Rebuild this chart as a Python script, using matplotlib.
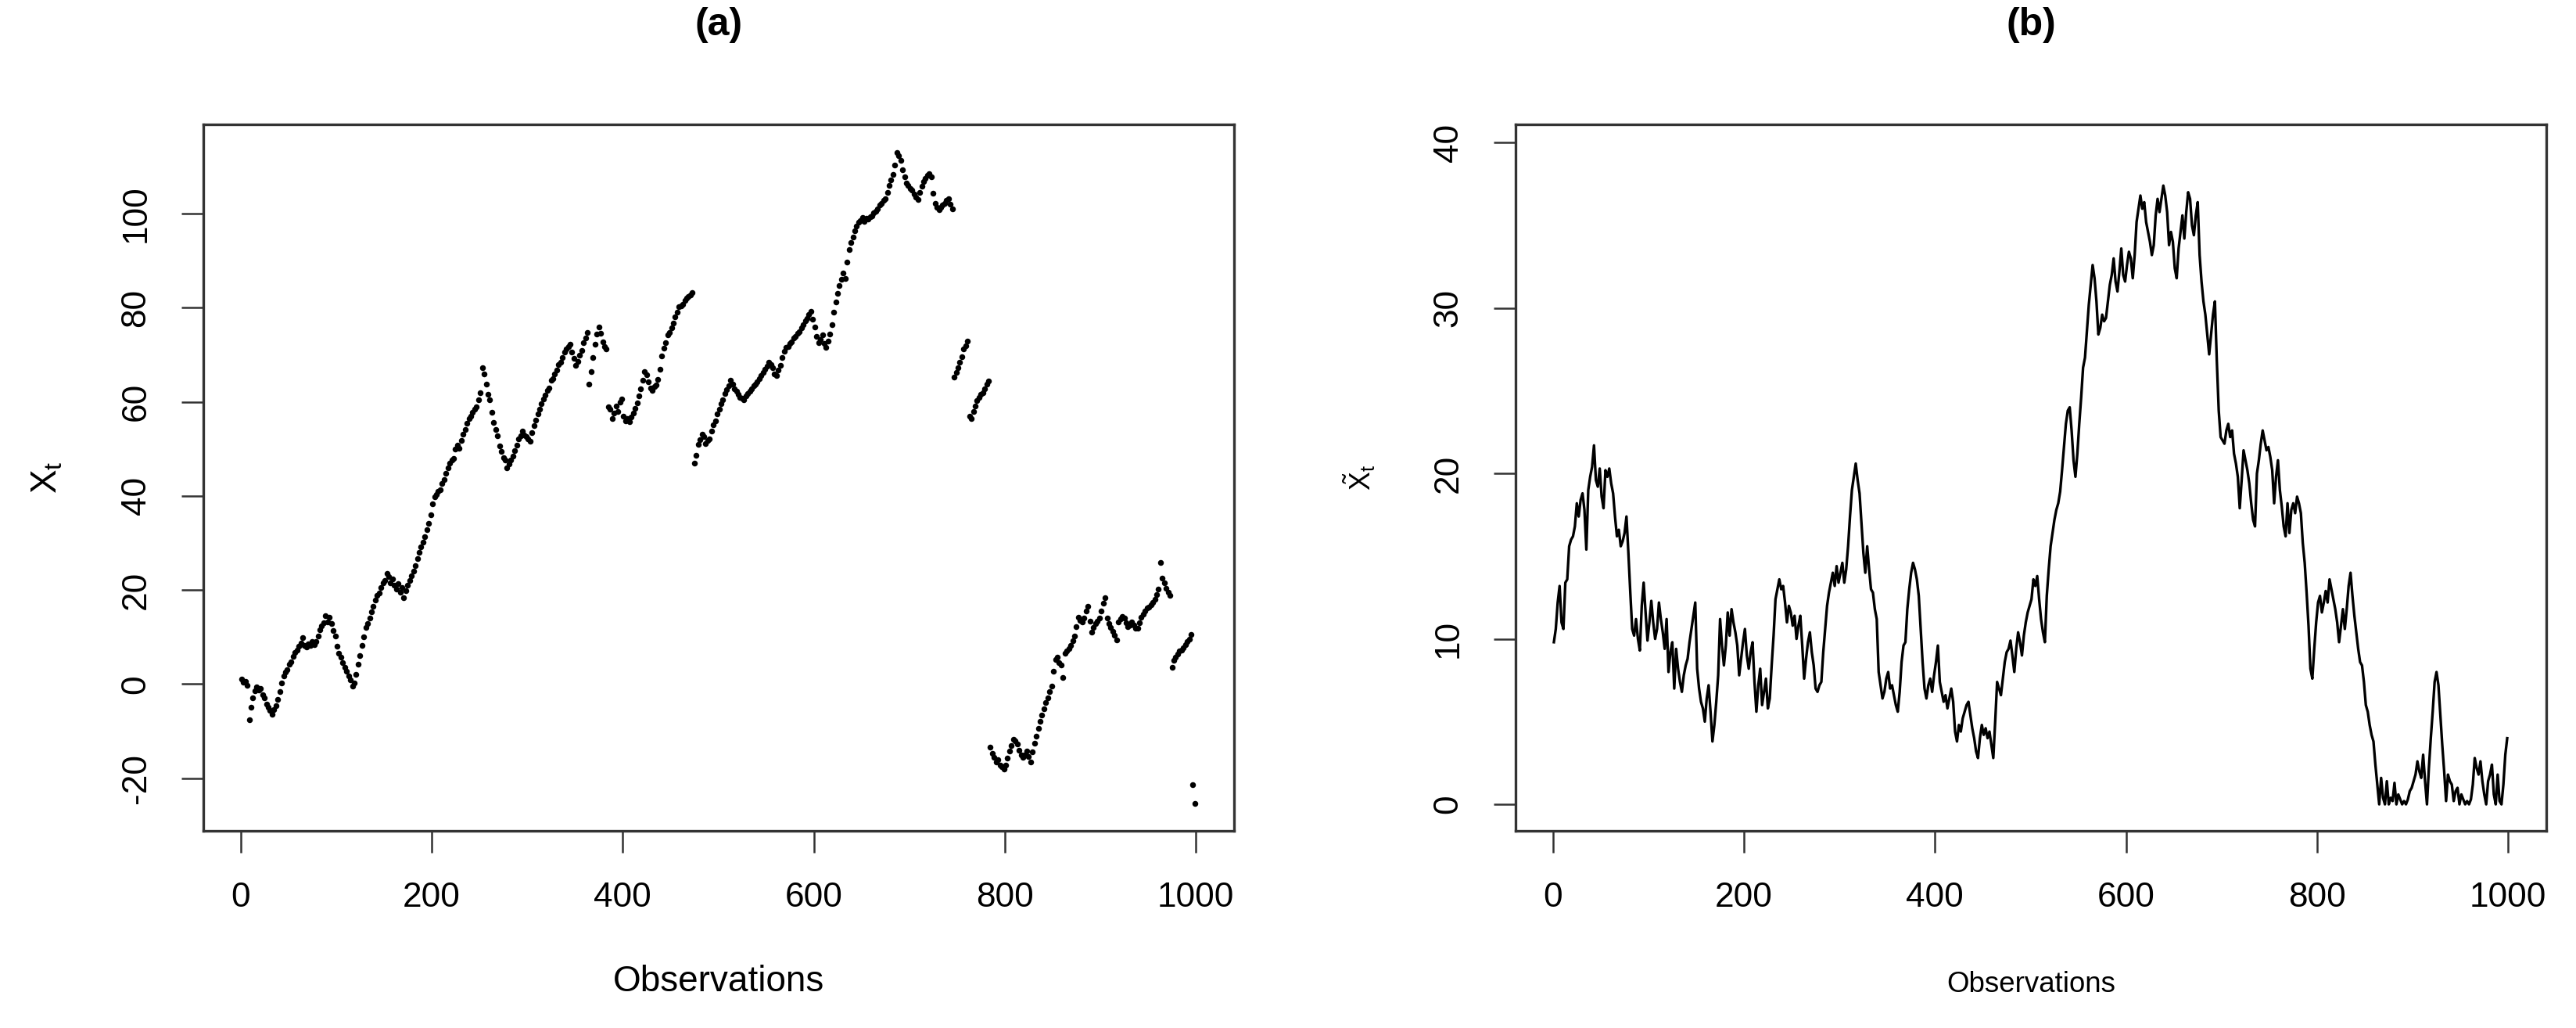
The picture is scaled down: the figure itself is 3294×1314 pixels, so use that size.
import numpy as np
import matplotlib
matplotlib.use("Agg")
import matplotlib.pyplot as plt

plt.rcParams['font.family'] = ['Liberation Sans', 'DejaVu Sans']
plt.rcParams['mathtext.fontset'] = 'custom'
plt.rcParams['mathtext.rm'] = 'Liberation Sans'
plt.rcParams['mathtext.it'] = 'Liberation Sans'
plt.rcParams['mathtext.bf'] = 'Liberation Sans:bold'
plt.rcParams['axes.unicode_minus'] = False

# observations (every second one)
obs = np.arange(1, 1000, 2)

# panel (a): X_t, scatter
x_t = [
    1.0, 0.4, 0.6, -0.2, -7.6, -5.0, -3.0, -1.5, -0.6, -1.2,
    -0.9, -2.2, -3.0, -4.2, -5.0, -5.6, -6.5, -5.5, -4.6, -3.2,
    -1.6, 0.2, 1.8, 2.6, 3.0, 4.2, 4.8, 5.9, 6.8, 7.3,
    8.0, 8.8, 9.9, 8.3, 7.9, 8.6, 8.2, 9.1, 8.4, 9.0,
    10.2, 11.6, 12.4, 13.1, 14.6, 13.2, 14.2, 12.8, 11.4, 10.2,
    8.0, 6.6, 5.8, 4.6, 3.6, 2.8, 1.7, 0.9, -0.5, 0.3,
    2.0, 4.2, 6.0, 8.3, 10.1, 12.0, 12.8, 14.0, 15.3, 16.6,
    17.8, 18.9, 19.4, 20.6, 21.5, 22.0, 23.5, 22.8, 21.6, 22.4,
    21.0, 20.2, 21.3, 19.6, 20.5, 18.4, 19.8, 21.0, 22.0, 23.0,
    24.0, 25.2, 26.6, 28.0, 29.1, 30.2, 31.4, 32.8, 34.2, 36.0,
    38.4, 39.8, 40.4, 41.0, 41.4, 42.6, 43.4, 44.8, 45.9, 47.0,
    47.6, 48.0, 50.0, 50.8, 50.2, 51.8, 53.2, 54.2, 55.4, 56.4,
    57.0, 57.8, 58.4, 59.0, 60.4, 62.0, 67.2, 66.0, 63.8, 61.6,
    60.4, 57.8, 55.6, 54.2, 52.8, 50.6, 49.4, 48.2, 47.6, 46.0,
    46.8, 47.6, 48.4, 49.6, 50.8, 52.2, 52.8, 53.8, 53.0, 52.6,
    52.2, 51.6, 53.4, 55.0, 56.2, 57.4, 58.4, 59.6, 60.6, 61.4,
    62.4, 63.0, 64.6, 65.0, 66.0, 66.8, 67.9, 68.4, 69.4, 70.6,
    71.2, 71.8, 72.3, 70.6, 69.2, 67.8, 68.6, 70.0, 71.0, 72.6,
    73.6, 74.8, 63.8, 66.4, 69.4, 72.2, 74.4, 76.0, 74.6, 72.8,
    71.8, 71.2, 59.0, 58.4, 56.4, 57.6, 59.2, 58.0, 60.0, 60.6,
    57.0, 56.0, 56.4, 55.8, 56.8, 57.6, 58.6, 59.8, 61.2, 62.8,
    64.6, 66.4, 65.8, 64.2, 63.0, 62.4, 63.2, 63.6, 64.8, 67.0,
    69.8, 71.4, 72.6, 74.2, 74.8, 75.8, 76.8, 78.0, 79.0, 80.2,
    80.4, 80.8, 81.6, 82.0, 82.4, 82.8, 83.2, 47.0, 48.6, 51.0,
    52.0, 53.2, 52.6, 51.2, 51.8, 52.2, 53.8, 55.2, 56.0, 57.4,
    58.4, 59.6, 60.4, 61.8, 62.6, 63.4, 64.6, 63.8, 62.8, 62.2,
    61.6, 61.0, 60.8, 60.4, 61.2, 61.8, 62.2, 62.8, 63.4, 63.8,
    64.2, 65.0, 65.6, 66.2, 67.0, 67.6, 68.4, 68.0, 67.2, 66.0,
    65.6, 66.8, 67.8, 69.4, 70.8, 71.6, 71.8, 72.4, 72.8, 73.6,
    74.0, 74.6, 75.0, 75.8, 76.4, 77.2, 77.8, 78.6, 79.2, 77.6,
    76.0, 74.0, 72.6, 73.2, 74.2, 72.4, 71.6, 73.0, 74.4, 76.4,
    79.0, 81.2, 83.0, 84.8, 86.0, 87.4, 86.2, 89.8, 92.4, 93.8,
    95.0, 96.4, 97.4, 98.2, 98.6, 99.2, 98.4, 99.0, 98.8, 99.4,
    99.6, 100.2, 100.6, 101.0, 101.8, 102.2, 102.8, 103.2, 104.6, 106.0,
    107.2, 108.4, 110.4, 113.0, 112.4, 111.4, 109.4, 107.8, 106.6, 106.0,
    105.4, 105.0, 104.2, 103.6, 103.0, 104.6, 105.8, 106.8, 107.6, 108.2,
    108.6, 107.8, 104.4, 102.2, 101.4, 100.8, 101.4, 101.8, 102.2, 102.8,
    103.2, 102.0, 101.0, 65.2, 66.2, 67.2, 68.4, 69.6, 71.2, 72.0,
    73.0, 57.0, 56.4, 58.0, 59.2, 60.2, 61.0, 61.6, 62.0, 62.8,
    63.8, 64.4, -13.4, -14.8, -15.6, -16.6, -16.0, -17.2, -17.6, -18.0,
    -17.2, -15.8, -14.2, -13.0, -11.8, -12.0, -12.8, -14.0, -15.0, -15.6,
    -15.0, -14.2, -15.4, -16.6, -14.4, -12.6, -11.0, -9.4, -8.0, -6.6,
    -5.2, -4.0, -3.0, -1.6, -0.4, 2.8, 5.2, 5.8, 4.6, 4.0,
    1.4, 6.6, 7.0, 7.6, 8.2, 9.2, 10.2, 12.2, 14.2, 13.6,
    13.2, 14.0, 15.6, 16.6, 13.4, 11.0, 12.0, 12.8, 13.4, 14.0,
    15.6, 17.2, 18.4, 14.0, 12.8, 12.0, 11.2, 10.4, 9.4, 13.2,
    13.8, 14.4, 14.0, 13.0, 12.2, 12.6, 13.2, 12.6, 11.8, 11.8,
    13.0, 14.2, 14.8, 15.6, 16.2, 16.4, 16.8, 17.4, 18.0, 19.0,
    20.2, 25.8, 22.6, 21.6, 20.4, 19.6, 18.8, 3.6, 5.0, 5.8,
    6.4, 7.0, 7.2, 7.8, 8.4, 9.0, 9.6, 10.6, -21.4, -25.4,
]

# panel (b): X~_t, line
x_tilde = [
    9.8, 10.6, 12.2, 13.2, 11.0, 10.6, 13.4, 13.6, 15.6, 16.0,
    16.2, 16.8, 18.2, 17.4, 18.4, 18.8, 17.8, 15.4, 19.0, 19.8,
    20.4, 21.7, 19.6, 19.2, 20.3, 18.6, 17.9, 20.2, 19.8, 20.3,
    19.4, 18.8, 17.4, 16.2, 16.6, 15.6, 15.9, 16.4, 17.4, 15.2,
    12.8, 10.6, 10.2, 11.2, 10.0, 9.3, 12.0, 13.4, 11.6, 9.9,
    11.0, 12.3, 11.0, 10.0, 10.6, 12.2, 11.2, 10.4, 9.4, 11.2,
    8.0, 9.2, 9.8, 7.0, 9.4, 8.2, 7.4, 6.8, 7.8, 8.4,
    8.8, 9.8, 10.6, 11.4, 12.2, 8.2, 7.0, 6.2, 5.8, 5.0,
    6.4, 7.2, 5.6, 3.8, 4.8, 6.2, 7.8, 11.2, 9.6, 8.4,
    9.6, 11.6, 10.2, 11.8, 11.0, 10.4, 9.6, 7.8, 8.8, 9.8,
    10.6, 9.0, 8.2, 9.2, 9.8, 7.4, 5.6, 7.2, 8.2, 6.0,
    6.8, 7.6, 5.8, 6.4, 8.4, 10.2, 12.4, 13.0, 13.6, 13.0,
    13.2, 12.2, 11.0, 12.0, 11.6, 10.8, 11.4, 10.0, 10.8, 11.4,
    9.6, 7.6, 8.8, 9.8, 10.4, 9.2, 8.4, 7.0, 6.8, 7.2,
    7.4, 9.2, 10.6, 12.0, 12.8, 13.4, 14.0, 13.2, 14.4, 13.4,
    14.0, 14.6, 13.4, 14.2, 15.6, 17.4, 19.0, 19.8, 20.6, 19.6,
    18.8, 17.0, 15.2, 14.0, 15.6, 14.2, 13.0, 12.8, 11.8, 11.2,
    8.0, 7.2, 6.4, 6.8, 7.6, 8.0, 7.0, 7.2, 6.6, 6.0,
    5.6, 6.8, 8.6, 9.6, 9.8, 11.8, 13.0, 14.0, 14.6, 14.2,
    13.6, 12.6, 10.6, 8.6, 7.0, 6.4, 7.2, 7.6, 6.8, 7.8,
    8.6, 9.6, 7.4, 6.8, 6.2, 6.6, 5.8, 6.4, 7.0, 6.2,
    4.4, 3.8, 4.8, 4.4, 5.2, 5.6, 6.0, 6.2, 5.4, 4.6,
    4.0, 3.2, 2.8, 4.0, 4.8, 4.2, 4.6, 4.0, 4.4, 3.6,
    2.8, 5.0, 7.4, 7.0, 6.6, 7.6, 8.6, 9.2, 9.4, 9.9,
    9.0, 8.0, 9.4, 10.4, 9.8, 9.0, 10.2, 11.0, 11.6, 12.0,
    12.4, 13.6, 13.2, 13.8, 12.4, 11.2, 10.4, 9.8, 12.6, 14.2,
    15.6, 16.4, 17.2, 17.8, 18.2, 18.9, 20.2, 21.6, 23.0, 23.8,
    24.0, 22.6, 20.8, 19.8, 21.2, 23.0, 24.6, 26.4, 27.0, 28.6,
    30.2, 31.4, 32.6, 31.8, 30.4, 28.4, 28.8, 29.6, 29.2, 29.4,
    30.4, 31.4, 32.0, 33.0, 31.6, 31.0, 32.2, 33.6, 32.0, 31.6,
    32.6, 33.4, 33.0, 31.8, 33.2, 35.2, 36.0, 36.8, 36.0, 36.4,
    35.2, 34.6, 34.0, 33.2, 33.8, 35.6, 36.6, 35.8, 36.6, 37.4,
    36.8, 35.8, 33.8, 34.6, 34.0, 32.4, 31.8, 33.6, 34.6, 35.6,
    34.2, 35.8, 37.0, 36.6, 35.0, 34.4, 35.6, 36.4, 33.2, 31.6,
    30.4, 29.6, 28.4, 27.2, 28.4, 29.6, 30.4, 26.8, 23.8, 22.2,
    22.0, 21.8, 22.6, 23.0, 22.2, 22.6, 21.2, 20.6, 19.8, 17.9,
    19.6, 21.4, 20.8, 20.2, 19.4, 18.2, 17.2, 16.8, 20.0, 20.8,
    21.8, 22.6, 22.0, 21.4, 21.6, 21.0, 20.2, 18.2, 19.8, 20.8,
    19.0, 18.0, 16.8, 16.2, 18.2, 16.4, 17.8, 18.2, 17.6, 18.6,
    18.2, 17.6, 15.8, 14.6, 12.8, 10.8, 8.2, 7.6, 9.4, 11.0,
    12.2, 12.6, 11.6, 12.2, 12.9, 12.2, 13.6, 13.0, 12.4, 11.8,
    11.0, 9.8, 10.8, 11.8, 10.6, 11.8, 13.2, 14.0, 12.6, 11.4,
    10.4, 9.4, 8.6, 8.4, 7.4, 6.0, 5.6, 4.8, 4.2, 3.8,
    2.4, 1.2, 0.0, 1.6, 0.4, 0.0, 1.4, 0.0, 0.4, 0.2,
    1.3, 0.0, 0.6, 0.3, 0.0, 0.2, 0.0, 0.3, 0.8, 1.0,
    1.4, 1.8, 2.6, 2.0, 1.6, 3.0, 1.4, 0.0, 2.2, 4.0,
    5.6, 7.4, 8.0, 7.2, 5.4, 3.6, 2.0, 0.2, 1.8, 1.4,
    1.2, 0.2, 0.8, 1.0, 0.0, 0.6, 0.3, 0.0, 0.2, 0.0,
    0.3, 1.2, 2.8, 2.2, 1.8, 2.6, 1.4, 0.6, 0.0, 1.4,
    1.8, 2.4, 0.6, 0.0, 1.8, 0.2, 0.0, 1.2, 3.0, 4.0,
]

x_ticks = [0, 200, 400, 600, 800, 1000]
a_yticks = [-20, 0, 20, 40, 60, 80, 100]
b_yticks = [0, 10, 20, 30, 40]

fig = plt.figure(figsize=(3295 / 300, 1314 / 300))
ax1 = fig.add_axes([0.0789, 0.1918, 0.4, 0.6872])
ax2 = fig.add_axes([0.5882, 0.1918, 0.4, 0.6872])

ax1.plot(obs, x_t, 'o', color='black', ms=1.8, mew=0)
ax2.plot(obs, x_tilde, '-', color='black', lw=0.8)

ax1.set(xlim=[-39, 1040], ylim=[-31.2, 119])
ax2.set(xlim=[-39, 1040], ylim=[-1.6, 41.1])
ax1.set_yticks(a_yticks)
ax2.set_yticks(b_yticks)

for ax in (ax1, ax2):
    ax.set_xticks(x_ticks)
    for s in ax.spines.values():
        s.set_linewidth(0.8)
        s.set_color('#333333')
    ax.tick_params(length=6.7, width=0.6, color='#333333', pad=9,
                   labelsize=10.6)
    for lab in ax.get_yticklabels():
        lab.set_rotation(90)
        lab.set_va('center')

ax1.set_title('(a)', fontweight='bold', fontsize=12, y=1.113, va='center')
ax2.set_title('(b)', fontweight='bold', fontsize=12, y=1.113, va='center')

ax1.set_xlabel('Observations', fontsize=11, va='center')
ax1.xaxis.set_label_coords(0.5, -0.2137)
ax1.set_ylabel(r'$X_t$', fontsize=11, va='center')
ax1.yaxis.set_label_coords(-0.1517, 0.5)

ax2.set_xlabel('Observations', fontsize=8.8, va='center')
ax2.xaxis.set_label_coords(0.5, -0.218)
ax2.set_ylabel(r'$\tilde{X}_t$', fontsize=8.6, va='center')
ax2.yaxis.set_label_coords(-0.1517, 0.5)

plt.savefig('out.png', dpi=300)
